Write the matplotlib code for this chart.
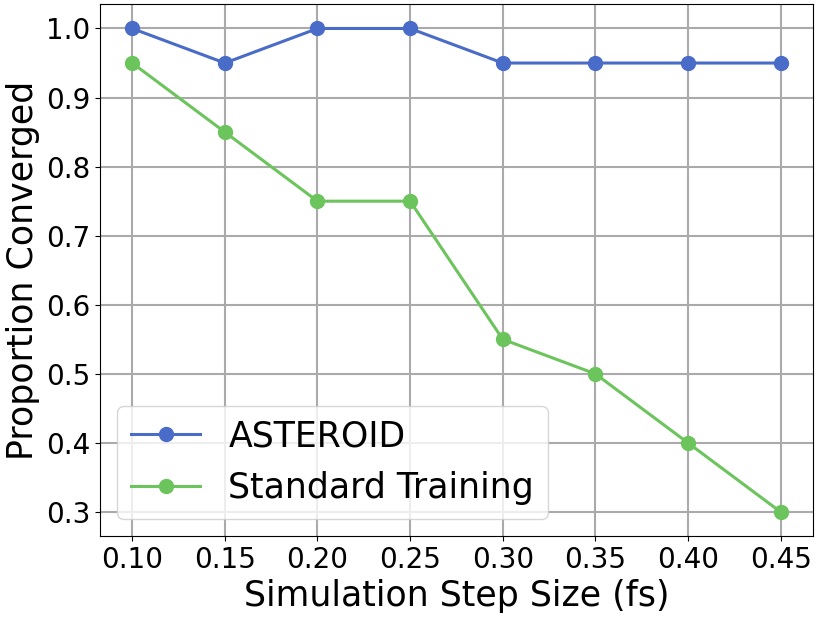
import numpy as np
import matplotlib.pyplot as plt

step_size = [0.10, 0.15, 0.20, 0.25, 0.30, 0.35, 0.40, 0.45]
asteroid = [1.0, 0.95, 1.0, 1.0, 0.95, 0.95, 0.95, 0.95]
standard = [0.95, 0.85, 0.75, 0.75, 0.55, 0.50, 0.40, 0.30]

fig, ax = plt.subplots(figsize=(8.18, 6.17), dpi=100)
ax.plot(step_size, asteroid, marker='o', markersize=10, linewidth=2.2,
        color='#4a6cc9', label='ASTEROID')
ax.plot(step_size, standard, marker='o', markersize=10, linewidth=2.2,
        color='#6cc45c', label='Standard Training')

ax.set_xticks(step_size)
ax.set_xticklabels([f"{s:.2f}" for s in step_size])
ax.tick_params(axis='both', labelsize=20)
ax.set_xlabel("Simulation Step Size (fs)", fontsize=25)
ax.set_ylabel("Proportion Converged", fontsize=25)
ax.grid(True, color='#aaaaaa', linewidth=1.5)
ax.legend(loc='lower left', fontsize=25)

plt.subplots_adjust(left=0.122, right=0.994, top=0.993, bottom=0.131)
plt.savefig("out.png")
